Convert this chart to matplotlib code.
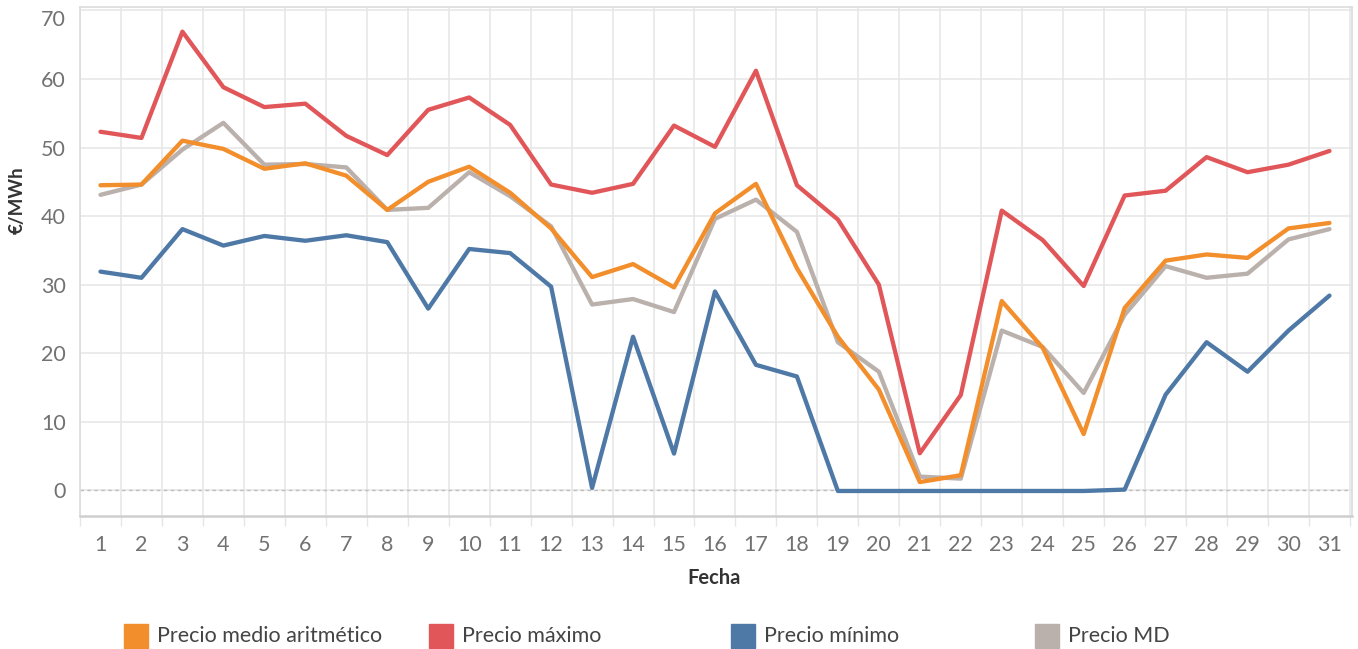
import matplotlib
matplotlib.use("Agg")
import matplotlib.pyplot as plt
from matplotlib.patches import Rectangle
from matplotlib.ticker import MultipleLocator

plt.rcParams['font.family'] = ['Lato', 'DejaVu Sans']

# datos
dias = list(range(1, 32))
series = ['Precio medio aritmético', 'Precio máximo', 'Precio mínimo', 'Precio MD']
colores = ['#F28E2B', '#E15759', '#4E79A7', '#BAB0AC']

precio_medio = [44.5, 44.6, 51.0, 49.8, 46.9, 47.7, 45.9, 40.9, 45.0, 47.2,
                43.4, 38.2, 31.1, 33.0, 29.6, 40.4, 44.7, 32.4, 22.4, 14.7,
                1.2, 2.2, 27.6, 20.8, 8.2, 26.6, 33.5, 34.4, 33.9, 38.2, 39.0]
precio_max = [52.3, 51.4, 66.9, 58.8, 55.9, 56.4, 51.7, 48.9, 55.5, 57.3,
              53.3, 44.6, 43.4, 44.7, 53.2, 50.1, 61.2, 44.5, 39.5, 30.0,
              5.4, 13.9, 40.8, 36.5, 29.8, 43.0, 43.7, 48.6, 46.4, 47.5, 49.5]
precio_min = [31.9, 31.0, 38.1, 35.7, 37.1, 36.4, 37.2, 36.2, 26.5, 35.2,
              34.6, 29.7, 0.35, 22.4, 5.35, 29.0, 18.3, 16.6, -0.1, -0.1,
              -0.1, -0.1, -0.1, -0.1, -0.1, 0.1, 13.95, 21.6, 17.3, 23.3, 28.4]
precio_md = [43.1, 44.6, 49.7, 53.6, 47.5, 47.6, 47.1, 40.9, 41.2, 46.4,
             42.9, 38.5, 27.1, 27.9, 26.0, 39.6, 42.4, 37.7, 21.6, 17.3,
             2.0, 1.7, 23.3, 20.9, 14.2, 25.6, 32.7, 31.0, 31.6, 36.6, 38.1]

fig = plt.figure(figsize=(13.58, 6.49), dpi=100)
ax = fig.add_axes([80 / 1358, 1 - 516 / 649, 1272 / 1358, 509 / 649])

grid_c = '#e6e6e6'
ax.set_xlim(0.5, 31.55)
ax.set_ylim(-3.75, 70.5)
ax.set_yticks(range(0, 71, 10))
ax.set_xticks(dias)
ax.xaxis.set_minor_locator(MultipleLocator(1, offset=0.5))
ax.grid(axis='y', which='major', color=grid_c, lw=1.1)
ax.grid(axis='x', which='minor', color=grid_c, lw=1.1)
ax.set_axisbelow(True)
ax.axhline(0, color='#bdbdbd', lw=1, ls=(0, (2.5, 2.5)), zorder=1)

# orden de dibujo: MD abajo, luego minimo, maximo y medio encima
ax.plot(dias, precio_md, color=colores[3], lw=3.1, solid_capstyle='round', zorder=3)
ax.plot(dias, precio_min, color=colores[2], lw=3.1, solid_capstyle='round', zorder=4)
ax.plot(dias, precio_max, color=colores[1], lw=3.1, solid_capstyle='round', zorder=4)
ax.plot(dias, precio_medio, color=colores[0], lw=3.1, solid_capstyle='round', zorder=5)

for s in ['top', 'right', 'left']:
    ax.spines[s].set_color('#dcdcdc')
    ax.spines[s].set_linewidth(1.2)
ax.spines['bottom'].set_color('#cfcfcf')
ax.spines['bottom'].set_linewidth(1.8)

ax.tick_params(axis='x', which='major', length=0, pad=14, labelsize=15.5, labelcolor='#727272')
ax.tick_params(axis='x', which='minor', length=7, width=1, color=grid_c)
ax.tick_params(axis='y', length=0, pad=10, labelsize=15.5, labelcolor='#727272')
for lab in ax.get_yticklabels():
    if lab.get_text() == '70':
        lab.set_va('top')

fig.text(17 / 1358, 1 - 200 / 649, '€/MWh', rotation=90, ha='center', va='center',
         fontsize=13.5, fontweight='bold', color='#333333')
fig.text(714 / 1358, 1 - 578 / 649, 'Fecha', ha='center', va='center',
         fontsize=14.5, fontweight='bold', color='#333333')

# leyenda
leg_x = [124, 429, 731, 1035]
for x, nombre, c in zip(leg_x, series, colores):
    fig.patches.append(Rectangle((x / 1358, 1 - 648 / 649), 24 / 1358, 24 / 649,
                                 transform=fig.transFigure, color=c))
    fig.text((x + 33) / 1358, 1 - 636 / 649, nombre, ha='left', va='center',
             fontsize=15.5, color='#444444')

fig.savefig('out.png', dpi=100)
